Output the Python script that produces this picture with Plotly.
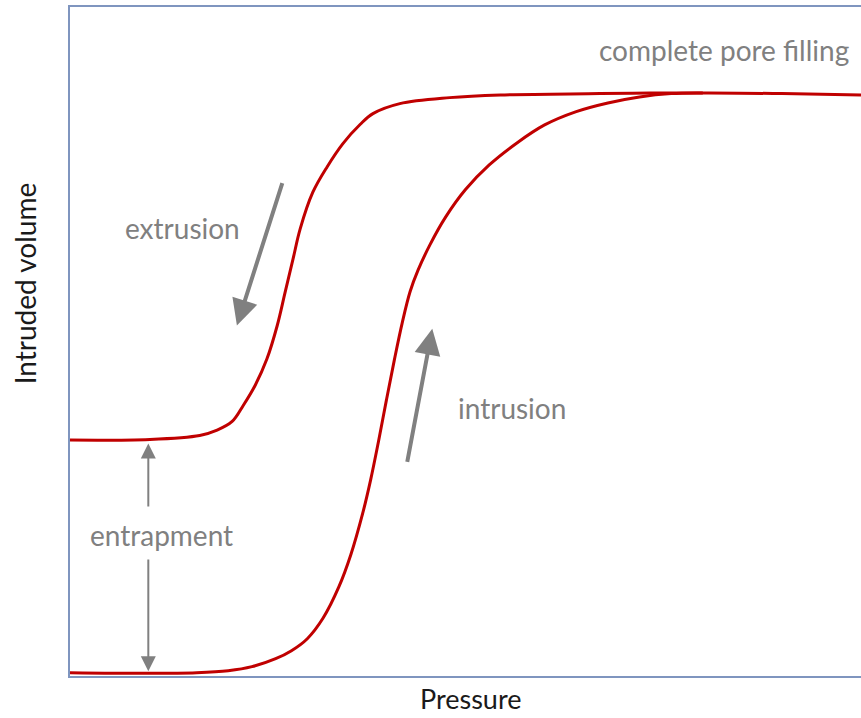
import plotly.graph_objects as go

# Intrusion branch (pressure increasing)
intrusion_p = [0, 10, 16, 20, 23, 26, 28, 30, 32, 34, 35.5, 37, 38, 39, 40, 41, 42, 43,
               44, 45.5, 47.5, 50, 53, 56.5, 60, 64, 68, 72, 76, 80, 90, 100]
intrusion_v = [0.1, 0.0, 0.1, 0.4, 1.0, 2.2, 3.4, 5.2, 8.3, 13.0, 17.8, 24.0, 29.0, 34.8,
               41.0, 47.0, 52.6, 57.3, 60.5, 64.3, 68.5, 72.6, 76.3, 79.6, 82.3, 84.3,
               85.6, 86.5, 87.0, 87.1, 87.0, 86.8]

# Extrusion branch (pressure decreasing)
extrusion_p = [80.0, 73.3, 67.0, 54.4, 48.0, 41.7, 38.3, 36.7, 34.5, 32.5, 30.7, 29.1,
               28.2, 27.2, 26.2, 24.9, 23.4, 21.9, 20.5, 18.6, 16.4, 10.1, 0]
extrusion_v = [87.1, 87.1, 87.0, 86.8, 86.4, 85.5, 84.0, 82.4, 79.5, 76.0, 72.2, 66.7,
               62.2, 57.2, 52.2, 47.2, 43.2, 40.2, 37.8, 36.5, 35.7, 35.1, 35.0]

# Direction arrows: (tail pressure, tail volume, head pressure, head volume, width)
arrows = [
    (26.9, 73.8, 21.1, 52.2, 4),   # extrusion
    (42.6, 31.5, 45.8, 51.7, 4),   # intrusion
    (9.9, 24.8, 9.9, 34.5, 2),     # entrapment, up
    (9.9, 17.3, 9.9, 0.3, 2),      # entrapment, down
]

# Labels: (text, pressure, volume)
labels = [
    ("complete pore filling", 82.7, 93.6),
    ("extrusion", 14.2, 66.8),
    ("intrusion", 55.9, 39.8),
    ("entrapment", 11.6, 20.8),
]

RED = "#c00000"
GREY = "#808080"
AXIS = "#7f95bf"
FONT = "Lato"

fig = go.Figure()
for px_, vy_ in ((intrusion_p, intrusion_v), (extrusion_p, extrusion_v)):
    fig.add_trace(go.Scatter(x=px_, y=vy_, mode="lines",
                             line=dict(color=RED, width=3, shape="spline", smoothing=1.0),
                             hoverinfo="skip"))

annotations = []
for tx, ty, hx, hy, w in arrows:
    annotations.append(dict(
        x=hx, y=hy, ax=tx, ay=ty, xref="x", yref="y", axref="x", ayref="y",
        text="", showarrow=True, arrowhead=2, arrowsize=1.3 if w > 2 else 1.5,
        arrowwidth=w, arrowcolor=GREY))
for text, px, vy in labels:
    annotations.append(dict(
        x=px, y=vy, xref="x", yref="y", text=text, showarrow=False,
        font=dict(family=FONT, size=28, color=GREY),
        xanchor="center", yanchor="middle"))

annotations.append(dict(
    x=0.506, y=0, xref="paper", yref="paper", text="Pressure", showarrow=False,
    yshift=-4, xanchor="center", yanchor="top",
    font=dict(family=FONT, size=27, color="#1a1a1a")))
annotations.append(dict(
    x=0, y=0.587, xref="paper", yref="paper", text="Intruded volume", showarrow=False,
    xshift=-45, xanchor="center", yanchor="middle", textangle=-90,
    font=dict(family=FONT, size=28, color="#1a1a1a")))

fig.update_layout(
    width=861, height=718,
    margin=dict(l=70, r=0, t=7, b=42),
    paper_bgcolor="white", plot_bgcolor="white",
    showlegend=False,
    annotations=annotations,
)
fig.update_xaxes(range=[0, 100], showgrid=False, zeroline=False, showticklabels=False,
                 ticks="", showline=True, linecolor=AXIS, linewidth=2, mirror=True)
fig.update_yaxes(range=[-0.4, 100], showgrid=False, zeroline=False, showticklabels=False,
                 ticks="", showline=True, linecolor=AXIS, linewidth=2)

fig.write_html("out.html")
